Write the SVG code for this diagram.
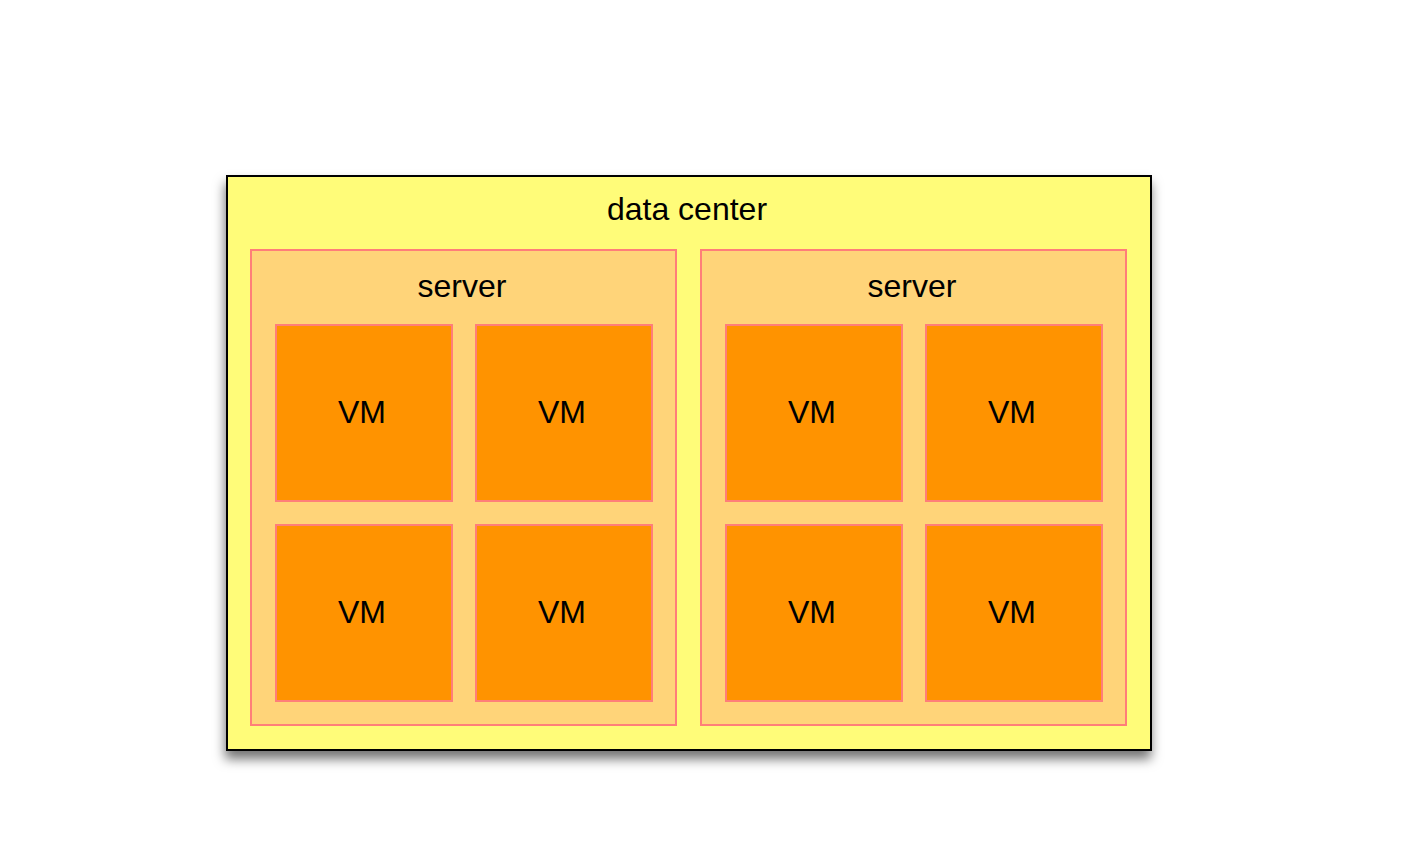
<svg xmlns="http://www.w3.org/2000/svg" width="1417" height="866" viewBox="0 0 1417 866">
<style>
.dc{fill:#FFFC79;stroke:#000;stroke-width:2}
.srv{fill:#FFD479;stroke:#FF7E79;stroke-width:2}
.vm{fill:#FF9300;stroke:#FF7E79;stroke-width:2}
text{font-family:"Liberation Sans",Arial,Helvetica,sans-serif;font-size:32px;fill:#000;text-anchor:middle}
</style>
<defs>
<filter id="sh" x="-10%" y="-10%" width="120%" height="125%">
<feDropShadow dx="-1" dy="8" stdDeviation="6" flood-color="#000" flood-opacity="0.55"/>
</filter>
</defs>
<rect width="1417" height="866" fill="#fff"/>
<g id="datacenter">
<rect class="dc" x="227" y="176" width="924" height="574" filter="url(#sh)"/>
<text x="687" y="220">data center</text>
</g>
<g id="server1">
<rect class="srv" x="251" y="250" width="425" height="475"/>
<text x="462" y="297">server</text>
</g>
<g id="server2">
<rect class="srv" x="701" y="250" width="425" height="475"/>
<text x="912" y="297">server</text>
</g>
<g id="vm1"><rect class="vm" x="276" y="325" width="176" height="176"/><text x="362" y="423">VM</text></g>
<g id="vm2"><rect class="vm" x="476" y="325" width="176" height="176"/><text x="562" y="423">VM</text></g>
<g id="vm3"><rect class="vm" x="276" y="525" width="176" height="176"/><text x="362" y="623">VM</text></g>
<g id="vm4"><rect class="vm" x="476" y="525" width="176" height="176"/><text x="562" y="623">VM</text></g>
<g id="vm5"><rect class="vm" x="726" y="325" width="176" height="176"/><text x="812" y="423">VM</text></g>
<g id="vm6"><rect class="vm" x="926" y="325" width="176" height="176"/><text x="1012" y="423">VM</text></g>
<g id="vm7"><rect class="vm" x="726" y="525" width="176" height="176"/><text x="812" y="623">VM</text></g>
<g id="vm8"><rect class="vm" x="926" y="525" width="176" height="176"/><text x="1012" y="623">VM</text></g>
<g id="connectors"></g>
</svg>
